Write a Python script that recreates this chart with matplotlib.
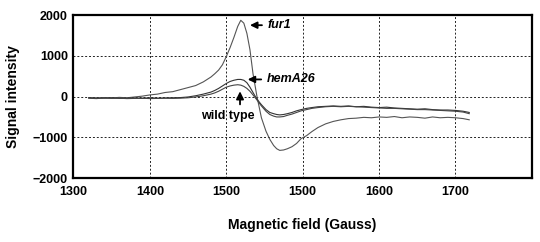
import matplotlib
matplotlib.use("Agg")
import matplotlib.pyplot as plt

plt.rcParams['font.family'] = ['Liberation Sans', 'DejaVu Sans']
plt.rcParams['font.weight'] = 'bold'

# field positions along the drawn axis (Gauss)
field = [1320, 1330, 1340, 1350, 1360, 1370, 1380, 1390, 1400, 1410, 1420, 1430,
         1440, 1450, 1460, 1470, 1480, 1485, 1490, 1495, 1500, 1505, 1510, 1515,
         1519, 1523, 1527, 1531, 1535, 1540, 1546, 1552, 1557, 1562, 1566, 1570,
         1575, 1580, 1586, 1592, 1598, 1605, 1612, 1620, 1630, 1640, 1650, 1660,
         1670, 1680, 1690, 1700, 1710, 1720, 1730, 1740, 1750, 1760, 1770, 1780,
         1790, 1800, 1810, 1818]

fur1 = [-30, -40, -25, -35, -20, -30, -10, 10, 40, 60, 100, 120,
        170, 220, 270, 360, 480, 560, 650, 780, 980, 1200, 1450, 1720,
        1870, 1800, 1550, 1150, 560, 20, -520, -850, -1050, -1200, -1280, -1320,
        -1310, -1280, -1230, -1150, -1030, -960, -860, -760, -670, -610, -570, -540,
        -530, -510, -520, -500, -510, -490, -520, -500, -510, -530, -500, -520,
        -510, -520, -540, -570]

hemA26 = [-30, -35, -40, -30, -45, -40, -35, -45, -30, -40, -35, -30,
          -25, -10, 20, 60, 110, 150, 200, 260, 320, 370, 400, 420,
          420, 400, 340, 230, 100, -60, -200, -320, -390, -420, -440, -450,
          -440, -420, -390, -350, -320, -290, -270, -250, -240, -230, -240, -230,
          -250, -240, -260, -270, -260, -280, -290, -300, -310, -300, -320, -330,
          -330, -340, -360, -390]

wild_type = [-40, -50, -35, -45, -40, -50, -45, -40, -50, -45, -40, -45,
             -40, -30, -10, 20, 60, 90, 130, 180, 230, 260, 280, 290,
             280, 250, 200, 130, 40, -80, -230, -360, -440, -480, -500, -500,
             -490, -460, -430, -390, -350, -320, -290, -270, -250, -240, -250, -240,
             -250, -260, -270, -280, -290, -290, -300, -310, -320, -320, -330, -340,
             -350, -360, -380, -420]

xticks = [1300, 1400, 1500, 1600, 1700, 1800]
xticklabels = ['1300', '1400', '1500', '1500', '1600', '1700']
yticks = [-2000, -1000, 0, 1000, 2000]

fig = plt.figure(figsize=(5.4, 2.42), dpi=100)
ax = fig.add_axes([0.136, 0.264, 0.849, 0.674])

ax.plot(field, fur1, color='#555555', lw=0.8)
ax.plot(field, hemA26, color='#333333', lw=0.8)
ax.plot(field, wild_type, color='#444444', lw=0.8)

ax.set_xlim(1300, 1900)
ax.set_ylim(-2000, 2000)
ax.set_xticks(xticks)
ax.set_xticklabels(xticklabels)
ax.set_yticks(yticks)
ax.tick_params(length=0, labelsize=9, pad=6)
ax.tick_params(axis='y', pad=4)
for lab in ax.get_xticklabels() + ax.get_yticklabels():
    lab.set_fontweight('bold')

for v in [1400, 1500, 1600, 1700, 1800]:
    ax.axvline(v, color='#222222', lw=0.7, ls=(0, (2, 2)), zorder=0)
for v in [-1000, 0, 1000]:
    ax.axhline(v, color='#222222', lw=0.7, ls=(0, (2, 2)), zorder=0)

for s in ax.spines.values():
    s.set_linewidth(1.6)

ax.set_xlabel('Magnetic field (Gauss)', fontsize=10, fontweight='bold', labelpad=14)
ax.set_ylabel('Signal intensity', fontsize=10, fontweight='bold', labelpad=9)

arrow = dict(arrowstyle='-|>,head_length=0.45,head_width=0.22', color='black',
             lw=1.3, shrinkA=2, shrinkB=0)
ax.annotate('fur1', xy=(1531, 1750), xytext=(1554, 1750), ha='left', va='center',
            fontsize=9, fontweight='bold', style='italic', arrowprops=arrow)
ax.annotate('hemA26', xy=(1528, 420), xytext=(1553, 420), ha='left', va='center',
            fontsize=9, fontweight='bold', style='italic', arrowprops=arrow)
ax.annotate('', xy=(1518, 130), xytext=(1518, -260), arrowprops=arrow)
ax.text(1502, -480, 'wild type', ha='center', va='center',
        fontsize=9, fontweight='bold')

fig.savefig('out.png', dpi=100)
